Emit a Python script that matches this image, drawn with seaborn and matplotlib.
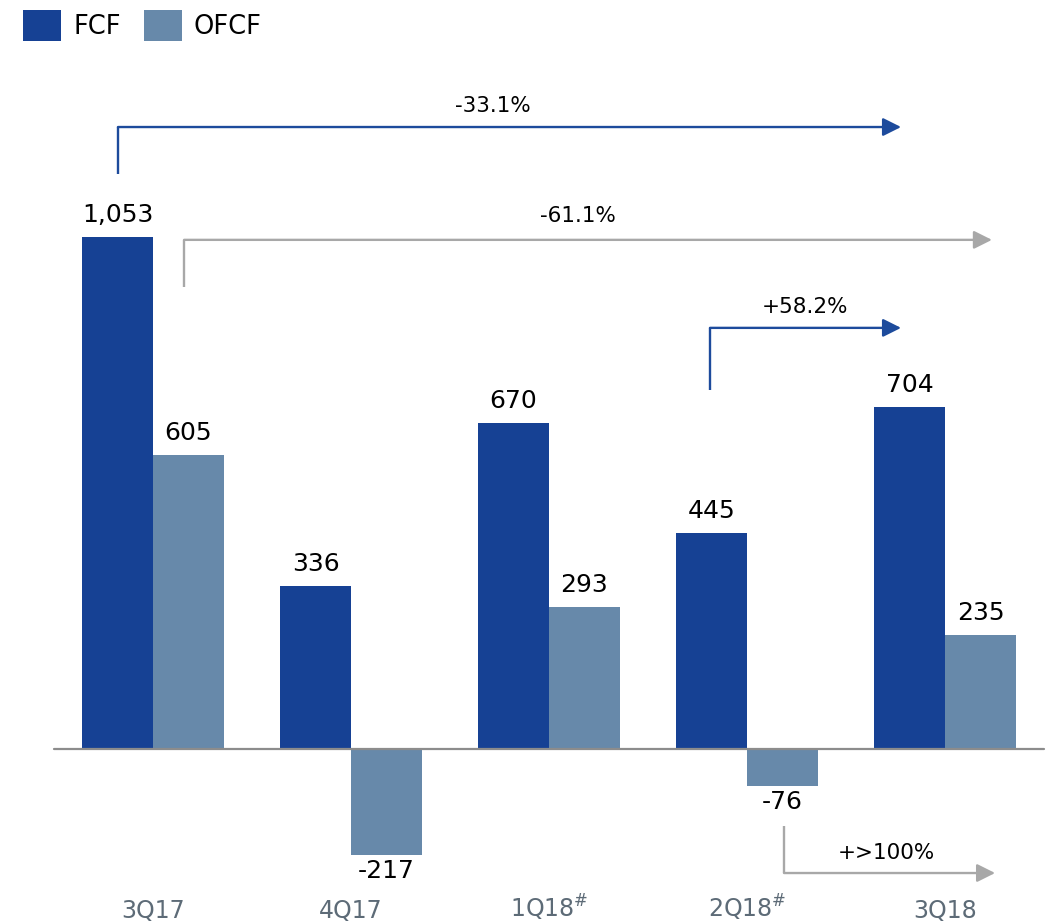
import pandas as pd
import matplotlib
matplotlib.use("Agg")
import matplotlib.pyplot as plt
import seaborn as sns

quarters = ['3Q17', '4Q17', '1Q18#', '2Q18#', '3Q18']
tick_labels = ['3Q17', '4Q17', r'1Q18$^{\#}$', r'2Q18$^{\#}$', '3Q18']
fcf = [1053, 336, 670, 445, 704]
ofcf = [605, -217, 293, -76, 235]

growth_labels = ['-33.1%', '-61.1%', '+58.2%', '+>100%']

df = pd.DataFrame({
    'quarter': quarters * 2,
    'value': fcf + ofcf,
    'series': ['FCF'] * len(fcf) + ['OFCF'] * len(ofcf),
})

cor_fcf = '#164194'
cor_ofcf = '#6789aa'
cor_seta_azul = '#1d4b9c'
cor_seta_cinza = '#a8a8a8'

sns.set_style('white')
plt.rcParams['font.family'] = ['DejaVu Sans']

fig = plt.figure(figsize=(10.51, 9.23), dpi=100)
ax = fig.add_axes([0, 35 / 923, 1, 888 / 923])

sns.barplot(data=df, x='quarter', y='value', hue='series', order=quarters,
            palette={'FCF': cor_fcf, 'OFCF': cor_ofcf}, saturation=1,
            width=0.717, linewidth=0, ax=ax)

ax.set_xlim(-0.7727, 4.5354)
ax.set_ylim(-285.8, 1540.2)
for s in ax.spines.values():
    s.set_visible(False)
ax.set_yticks([])
ax.set_xlabel('')
ax.set_ylabel('')
ax.set_xticks(range(len(quarters)))
ax.set_xticklabels(tick_labels, fontsize=17, color='#5d6b77')
for lbl in ax.get_xticklabels():
    lbl.set_va('baseline')
ax.tick_params(axis='x', length=0, pad=21.5)

# linha de base
ax.plot([-0.5, 4.5], [0, 0], color='#8c8c8c', lw=1.6, zorder=5)

# rotulos das barras
for cont in ax.containers:
    for bar in cont:
        h = bar.get_height()
        xc = bar.get_x() + bar.get_width() / 2
        if h >= 0:
            ax.annotate(f'{h:,.0f}', (xc, h), xytext=(0, 7), textcoords='offset points',
                        ha='center', va='bottom', fontsize=18, color='black')
        else:
            ax.annotate(f'{h:,.0f}', (xc, h), xytext=(0, -3), textcoords='offset points',
                        ha='center', va='top', fontsize=18, color='black')

# setas de variacao
setas = [
    (-0.177, 1182, 1279, 3.778, cor_seta_azul, 1.717, 1322),
    (0.157, 950, 1047, 4.237, cor_seta_cinza, 2.146, 1096),
    (2.813, 738, 866, 3.778, cor_seta_azul, 3.293, 909),
    (3.187, -158, -255, 4.253, cor_seta_cinza, 3.702, -214),
]
for lab, (x0, y0, y1, x1, cor, tx, ty) in zip(growth_labels, setas):
    ax.plot([x0, x0], [y0, y1], color=cor, lw=1.7, solid_capstyle='butt')
    ax.annotate('', xy=(x1, y1), xytext=(x0, y1),
                arrowprops=dict(arrowstyle='-|>,head_length=1.1,head_width=0.55',
                                color=cor, lw=1.7, shrinkA=0, shrinkB=0))
    ax.text(tx, ty, lab, ha='center', va='center', fontsize=15.5, color='black')

sns.move_legend(ax, 'upper left', bbox_to_anchor=(23 / 1051, 1 - 10 / 923),
                bbox_transform=fig.transFigure, ncol=2, frameon=False, title=None,
                fontsize=18.5, handlelength=1.48, handleheight=1.45, handletextpad=0.47,
                columnspacing=0.9, borderpad=0, borderaxespad=0)
for t in ax.get_legend().get_texts():
    t.set_color('black')

fig.savefig('out.png', dpi=100)
